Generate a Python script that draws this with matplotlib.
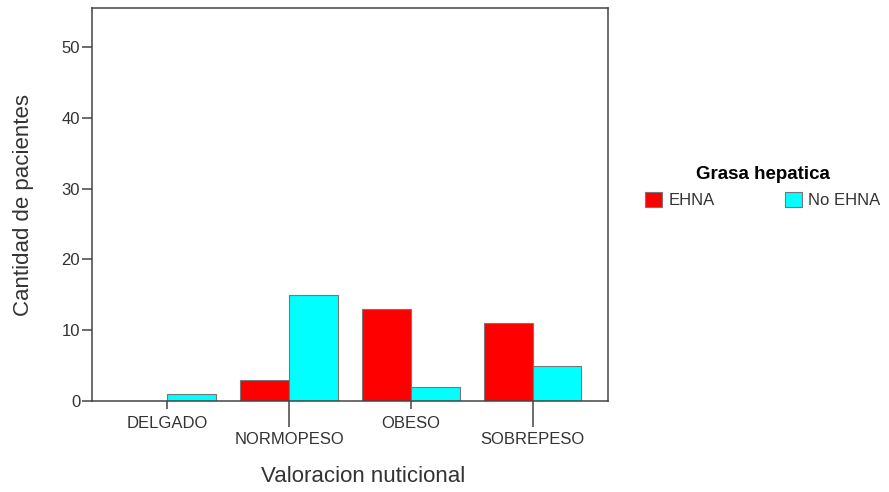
import matplotlib.pyplot as plt
import numpy as np

plt.rcParams['font.family'] = ['Liberation Sans', 'DejaVu Sans']

# Datos
categorias = ['DELGADO', 'NORMOPESO', 'OBESO', 'SOBREPESO']
ehna = [0, 3, 13, 11]
no_ehna = [1, 15, 2, 5]
yticks = [0, 10, 20, 30, 40, 50]

gris = '#444444'
texto = '#333333'

fig = plt.figure(figsize=(8.89, 4.92), dpi=100)
ax = fig.add_axes([92 / 889, 1 - 401 / 492, (608 - 92) / 889, (401 - 8) / 492])

x = np.arange(len(categorias))
ancho = 0.4
ax.bar(x - ancho / 2, ehna, ancho, color='#ff0000', edgecolor='#777777', linewidth=0.8, label='EHNA')
ax.bar(x + ancho / 2, no_ehna, ancho, color='#00ffff', edgecolor='#777777', linewidth=0.8, label='No EHNA')

ax.set_xlim(-0.62, 3.62)
ax.set_ylim(0, 55.5)
ax.set_yticks(yticks)
ax.tick_params(axis='y', direction='out', length=7, width=1.1, color=gris,
               labelsize=12, labelcolor=texto, pad=1.5)

# etiquetas escalonadas: ticks mayores cortos y menores largos
ax.set_xticks(x[::2])
ax.set_xticklabels(categorias[::2])
ax.set_xticks(x[1::2], minor=True)
ax.set_xticklabels(categorias[1::2], minor=True)
ax.tick_params(axis='x', which='major', direction='out', length=6, width=1.1,
               color=gris, labelsize=12, labelcolor=texto, pad=4.5)
ax.tick_params(axis='x', which='minor', direction='out', length=19, width=1.1,
               color=gris, labelsize=12, labelcolor=texto, pad=3.5)

for s in ax.spines.values():
    s.set_color(gris)
    s.set_linewidth(1.1)

ax.set_ylabel('Cantidad de pacientes', fontsize=16, color=texto)
ax.yaxis.set_label_coords(-0.112, 0.5)
ax.set_xlabel('Valoracion nuticional', fontsize=16, color=texto)
ax.xaxis.set_label_coords(0.525, -0.165)

leg = fig.legend(loc='center', bbox_to_anchor=(763 / 889, 1 - 187 / 492), ncol=2,
                 frameon=False, title='Grasa hepatica', fontsize=12,
                 handlelength=1.0, handleheight=1.0, handletextpad=0.4,
                 columnspacing=4.2)
leg.get_title().set_fontweight('bold')
leg.get_title().set_fontsize(13.5)
for t in leg.get_texts():
    t.set_color(texto)

fig.savefig('out.png', dpi=100)
